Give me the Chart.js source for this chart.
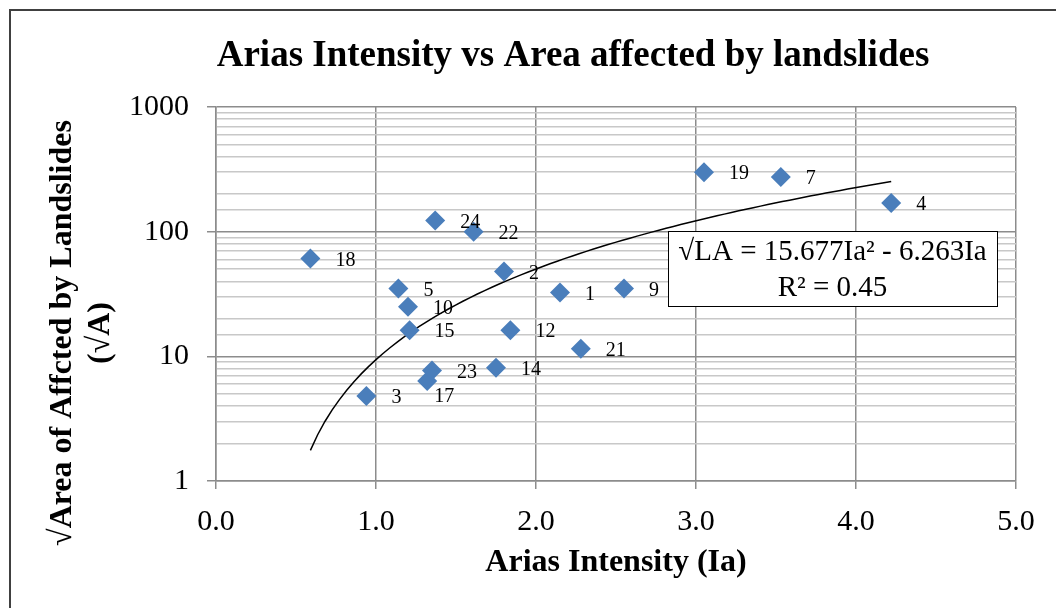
<!DOCTYPE html>
<html lang="en">
<head>
  <meta charset="UTF-8">
  <title>Arias Intensity vs Area affected by landslides</title>
  <script src="https://cdn.jsdelivr.net/npm/chart.js"></script>
  <style>
    html, body { margin: 0; padding: 0; background: #fff; }
    #wrap { width: 1056px; height: 608px; position: relative; }
  </style>
</head>
<body>
  <div id="wrap"><canvas id="ariasChart" width="1056" height="608"></canvas></div>

  <script>
    // Landslide ids, Arias intensity (Ia) and sqrt of affected area
    const pointIds = ['1', '2', '3', '4', '5', '7', '9', '10', '12', '14', '15', '17', '18', '19', '21', '22', '23', '24'];
    const ariasIa  = [2.15, 1.80, 0.94, 4.22, 1.14, 3.53, 2.55, 1.20, 1.84, 1.75, 1.21, 1.32, 0.59, 3.05, 2.28, 1.61, 1.35, 1.37];
    const sqrtArea = [32.5, 48, 4.8, 170, 35, 275, 35, 25, 16.2, 8.1, 16.2, 6.35, 61, 300, 11.5, 100, 7.7, 123];

    // Polynomial trend line shown on the chart: sqrtLA = a*Ia^2 + b*Ia
    const trendA = 15.677;
    const trendB = -6.263;
    const trendR2 = '0.45';

    const xTicks = [0, 1, 2, 3, 4, 5];
    const yTicks = [1, 10, 100, 1000];

    const scatterData = ariasIa.map((x, i) => ({ x: x, y: sqrtArea[i] }));

    const minIa = Math.min(...ariasIa);
    const maxIa = Math.max(...ariasIa);
    const trendData = [];
    for (let i = 0; i <= 80; i++) {
      const x = minIa + (maxIa - minIa) * i / 80;
      trendData.push({ x: x, y: trendA * x * x + trendB * x });
    }

    const serif = '"Liberation Serif", "Times New Roman", serif';

    // Draws point ids, titles and the equation box
    const annotations = {
      id: 'annotations',
      afterDatasetsDraw(chart) {
        const ctx = chart.ctx;
        const xs = chart.scales.x, ys = chart.scales.y;
        ctx.save();
        ctx.fillStyle = '#000';

        // point labels
        ctx.font = '20px ' + serif;
        ctx.textAlign = 'left';
        ctx.textBaseline = 'middle';
        pointIds.forEach((id, i) => {
          const px = xs.getPixelForValue(ariasIa[i]);
          const py = ys.getPixelForValue(sqrtArea[i]);
          if (id === '17') {
            ctx.fillText(id, px + 7, py + 16);
          } else {
            ctx.fillText(id, px + 25, py + 2);
          }
        });

        // equation box
        const bx = 668, by = 231, bw = 329, bh = 75;
        ctx.fillStyle = '#fff';
        ctx.fillRect(bx, by, bw, bh);
        ctx.strokeStyle = '#000';
        ctx.lineWidth = 1;
        ctx.strokeRect(bx + 0.5, by + 0.5, bw, bh);
        ctx.fillStyle = '#000';
        ctx.font = '29px ' + serif;
        ctx.textAlign = 'center';
        ctx.fillText('\u221ALA = ' + trendA.toFixed(3) + 'Ia\u00B2 - ' + Math.abs(trendB).toFixed(3) + 'Ia', bx + bw / 2, 252);
        ctx.fillText('R\u00B2 = ' + trendR2, bx + bw / 2, 288);

        // chart title
        ctx.font = 'bold 37px ' + serif;
        ctx.fillText('Arias Intensity vs Area affected by landslides', 573, 56);

        // x axis title
        ctx.font = 'bold 32px ' + serif;
        ctx.fillText('Arias Intensity (Ia)', 616, 563);

        // y axis title
        ctx.translate(0, 333);
        ctx.rotate(-Math.PI / 2);
        ctx.fillText('\u221AArea of Affcted by Landslides', 0, 63);
        ctx.fillText('(\u221AA)', 0, 101);
        ctx.restore();

        // outer frame
        ctx.save();
        ctx.strokeStyle = '#404040';
        ctx.lineWidth = 2;
        ctx.beginPath();
        ctx.moveTo(10, 608);
        ctx.lineTo(10, 10);
        ctx.lineTo(1056, 10);
        ctx.stroke();
        ctx.restore();
      }
    };

    new Chart(document.getElementById('ariasChart'), {
      type: 'scatter',
      data: {
        datasets: [
          {
            label: 'Landslides',
            data: scatterData,
            pointStyle: 'rectRot',
            pointRadius: 10,
            pointHoverRadius: 10,
            backgroundColor: '#4A7EBB',
            borderColor: '#4A7EBB',
            borderWidth: 0
          },
          {
            label: 'Trend',
            data: trendData,
            showLine: true,
            borderColor: '#000',
            borderWidth: 1.5,
            pointRadius: 0,
            fill: false
          }
        ]
      },
      options: {
        responsive: false,
        animation: false,
        layout: { padding: { top: 107, right: 40, left: 0, bottom: 0 } },
        plugins: {
          legend: { display: false },
          tooltip: { enabled: false }
        },
        scales: {
          x: {
            type: 'linear',
            min: 0,
            max: 5,
            afterBuildTicks: s => { s.ticks = xTicks.map(v => ({ value: v })); },
            afterFit: s => { s.height = 127; },
            grid: { color: '#8c8c8c', lineWidth: 1.5, tickLength: 8, tickColor: '#8c8c8c' },
            border: { color: '#8c8c8c', width: 1.5 },
            ticks: {
              font: { family: serif, size: 30 },
              color: '#000',
              padding: 15,
              callback: v => v.toFixed(1)
            }
          },
          y: {
            type: 'logarithmic',
            min: 1,
            max: 1000,
            afterFit: s => { s.width = 216; },
            grid: {
              color: ctx => (yTicks.includes(ctx.tick.value) ? '#8c8c8c' : '#c8c8c8'),
              lineWidth: 1.5,
              tickLength: 9,
              tickColor: ctx => (yTicks.includes(ctx.tick.value) ? '#8c8c8c' : 'rgba(0,0,0,0)')
            },
            border: { color: '#8c8c8c', width: 1.5 },
            ticks: {
              autoSkip: false,
              font: { family: serif, size: 30 },
              color: '#000',
              padding: 18,
              callback: v => (yTicks.includes(v) ? String(v) : '')
            }
          }
        }
      },
      plugins: [annotations]
    });
  </script>
</body>
</html>
